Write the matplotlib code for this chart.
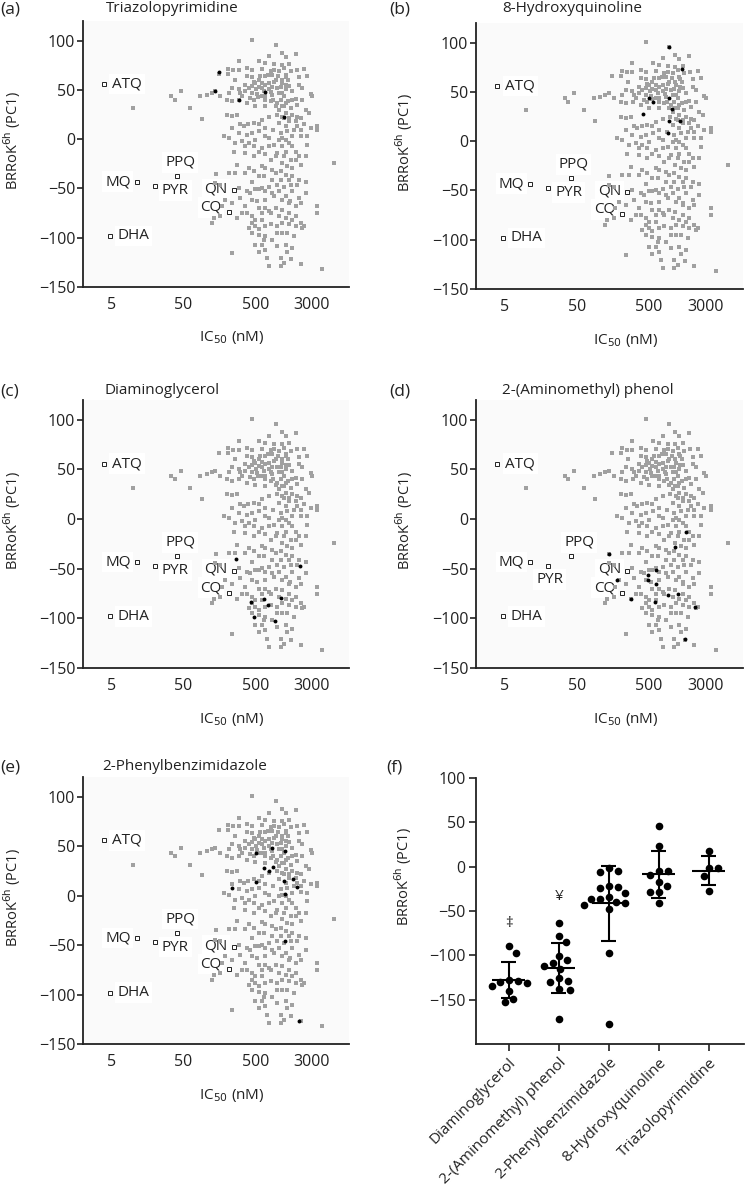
import numpy as np
import matplotlib.pyplot as plt
from matplotlib.ticker import NullLocator

plt.rcParams['font.family'] = ['Open Sans', 'DejaVu Sans']

# background compounds (grey squares), IC50 in nM and BRRoK6h PC1
cloud_ic50 = [
    449, 951, 1153, 1807, 784, 1312, 293, 569, 690, 902, 1153, 1460,
    208, 244, 293, 258, 383, 449, 620, 810, 1243, 1540, 1866, 2363, 154, 206, 587, 752, 1036, 1312, 2012, 1429,
    474, 620, 784, 951, 1178, 363, 449, 557, 690, 855, 1117, 1340, 2012, 2630,
    85, 106, 124, 138, 236, 212, 293, 404, 511, 654, 836, 1059, 1312, 1624, 2240, 2927, 3088,
    326, 426, 545, 690, 873, 1117, 1429, 1807, 383, 500, 690, 951, 1243, 1540, 2493,
    236, 299, 201, 163, 34, 38, 46, 62, 10,
    90, 201, 236, 277, 309, 344, 395, 474, 620, 768, 982, 1243, 1460, 1906, 2774,
    3626, 2927, 2123, 1713, 1383, 1117, 873, 690, 569, 449, 383, 293, 236, 500, 768, 1178, 1624, 2123, 2630, 3626,
    181, 212, 263, 326, 363, 474, 620, 902, 1178, 1460, 1807, 2630, 249, 363, 474, 690, 1003, 1243, 1540, 2012,
    1153, 1383, 1624, 2123, 6200, 277, 404, 620, 855, 1117,
    141, 212, 263, 474, 654, 951, 1312, 1624, 2012, 2493, 138, 163, 293, 383, 426, 500, 620, 768, 1003, 1243, 1540, 1906, 2493,
    449, 527, 690, 902, 1178, 1491, 2012, 3626, 191, 236, 171,
    131, 163, 277, 383, 449, 500, 620, 768, 951, 1153, 1460, 1807, 2123, 2363, 3626,
    124, 404, 500, 690, 810, 1178, 1460, 1807, 2240, 449, 557, 690, 1003, 1383, 1713, 855, 654,
    500, 620, 690, 1003, 1312, 1383, 1624, 557, 236, 728, 1117, 1573, 2123, 768, 1117, 1243, 4170,
    690, 557, 902, 1153, 1460, 620, 784, 1003, 1178, 855, 690, 1243, 1312, 1003, 810, 1153, 1059, 1312, 1624, 1178,
    1460, 1807, 2123, 449, 527, 620, 474, 363, 309, 383, 449, 500, 902, 1059, 855, 1624, 1906, 2240, 1340,
    557, 690, 855, 1059, 1312, 557, 690, 810, 1059, 1312, 1624, 620, 1003, 449, 557, 1178, 363, 309, 326, 1460,
    1807, 2123, 1624, 855, 1117, 1460, 449, 557, 363, 690,
    768, 951, 1312, 1624, 557, 404, 810, 1807, 2493, 1059, 1312, 690, 557, 1059, 1312, 1906, 2363,
]
cloud_pc1 = [
    101, 96, 87.5, 87, 84, 83.5, 79, 79, 77, 76, 75.5, 76.5,
    71.5, 70, 70, 60.5, 72, 70, 71, 69.5, 72, 69, 70.5, 71, 66.5, 66.5, 64, 65.5, 64, 65.5, 63, 60.5,
    58.5, 57.5, 57, 60.5, 57, 55.5, 54.5, 53.5, 55.5, 53, 53, 55, 55.5, 64,
    43.5, 45, 47, 48.5, 52, 47, 50.5, 52, 50.5, 48.5, 47.5, 47, 50.5, 48.5, 52, 46, 43.5,
    43.5, 42, 43, 40, 40, 40, 38.5, 41, 36.5, 34, 33.5, 34, 33.5, 31.5, 30,
    38.5, 40, 40, 43.5, 43.5, 40, 48.5, 31.5, 31.5,
    20.5, 25, 24, 25, 15, 13, 15, 16.5, 20, 23, 25, 21.5, 21.5, 23, 26.5,
    13, 11.5, 9.5, 9.5, 8, 6.5, 9.5, 11.5, 8, 6.5, 4.5, 6.5, 11.5, -0.5, 1, 1, 3, 3.5, 3, 9.5,
    3, 1, -4, -2, -7, -7, -9, -5.5, -7, -4, -12.5, -5.5, -12.5, -14, -17.5, -15.5, -14, -17.5, -21, -17.5,
    -24, -27.5, -29, -26, -24, -26, -29, -27, -31, -32.5,
    -35, -34, -34, -32.5, -37.5, -34, -36, -37.5, -41, -43, -44.5, -46, -49.5, -53, -54.5, -51, -49.5, -48, -46, -48, -46, -46, -54.5,
    -61.5, -63, -61.5, -58, -61.5, -63, -59.5, -68, -61.5, -65, -68,
    -80, -78, -80, -75, -78, -81.5, -75, -73, -70, -71.5, -75, -78, -85, -88.5, -75,
    -85, -90, -88.5, -88.5, -86.5, -85, -86.5, -88.5, -90, -95, -97, -98.5, -95, -95, -98.5, -102, -102,
    -107, -107, -112, -108.5, -107, -114, -110.5, -114, -115.5, -120.5, -120.5, -122, -127, -129, -129, -125.5, -131.5,
    64, 60.5, 58.5, 60.5, 54.5, 52, 50.5, 52, 47, 45, 43.5, 43.5, 36.5, 36.5, 38.5, 33.5, 30, 26.5, 25, 23,
    18, 18, 21.5, 47, 46, 43.5, 40, 48.5, 47, 64, 63, 57, 70.5, 69, 65.5, 40, 35, 40, 63.5,
    -51, -53, -54.5, -53, -58, -70, -70, -75, -78, -80, -81.5, -81.5, -88.5, -85, -91.5, -95, -68, -59.5, -75, -65,
    -68, -65, -53, -41, -41, -41, -43, -37.5, -34, -29,
    -7, -17.5, -12.5, -7, -12.5, -4, -21, -21, -17.5, -0.5, -0.5, 3, 15, 16.5, 13, 13, 15,
]

# reference antimalarials (open squares)
drug_names = ['ATQ', 'MQ', 'PYR', 'PPQ', 'QN', 'CQ', 'DHA']
drug_ic50 = [3.9, 11.2, 20, 41, 250, 212, 4.8]
drug_pc1 = [56, -43, -47, -37.5, -52, -74, -98]

# scaffold hits (black dots) per panel
tri_ic50 = [154, 138, 299, 690, 1243]
tri_pc1 = [68, 49, 40, 48, 23]
hq_ic50 = [934, 1426, 500, 568, 934, 1038, 413, 934, 1324, 906]
hq_pc1 = [96, 73, 44, 40, 44, 33, 28, 21, 21, 8.5]
dag_ic50 = [272, 2080, 440, 654, 752, 1117, 484, 931]
dag_pc1 = [-40.5, -47, -84, -80, -87, -79, -99, -103]
amp_ic50 = [1603, 1130, 140, 631, 484, 484, 177, 618, 277, 915, 1256, 599, 2132, 1570]
amp_pc1 = [-13, -28, -35.5, -51.5, -56, -61, -61.5, -65.5, -80.5, -76, -75, -84, -89, -121]
pbz_ic50 = [511, 855, 1270, 668, 768, 873, 1678, 1256, 516, 1866, 236, 1270, 1270, 2012]
pbz_pc1 = [43.5, 48.5, 45, 27.6, 25, 29, 17, 14.7, 13.7, 8.7, 8, 1.2, -46, -127]

# panel (f)
f_names = ['Diaminoglycerol', '2-(Aminomethyl) phenol', '2-Phenylbenzimidazole',
           '8-Hydroxyquinoline', 'Triazolopyrimidine']
f_dag = [-90, -97, -128, -130, -131, -129, -135, -140, -153, -149]
f_amp = [-63, -78, -85, -101, -105, -109, -112, -115, -126, -129, -130, -138, -139, -172]
f_pbz = [-5, -6, -2, -24, -22, -23, -36, -36, -34, -41, -48, -43, -97, -177, -30, -40]
f_hq = [46, 23, -5, -5, -17, -22, -9, -29, -29, -41]
f_tri = [18, -2, -1, -10, -27]
f_marks = ['‡', '¥']
f_mark_y = [-64, -34]

W, H = 748, 1194
fig = plt.figure(figsize=(W / 100, H / 100), dpi=100)
TXT = '#222222'
YLAB = r'BRRoK$^{\mathrm{6h}}$ (PC1)'


def px_axes(l, t, r, b):
    return fig.add_axes([l / W, 1 - b / H, (r - l) / W, (b - t) / H])


def ftext(x, y, s, **kw):
    fig.text(x / W, 1 - y / H, s, va='center', **kw)


lab_off = {'ATQ': (6, 0, 'left'), 'MQ': (-4.5, 0, 'right'), 'PYR': (5, -3.5, 'left'),
           'PPQ': (2, 10, 'center'), 'QN': (-4.5, 1, 'right'), 'CQ': (-5, 3.5, 'right'),
           'DHA': (5, 0, 'left')}


def scatter_panel(box, hx, hy, alt=False):
    ax = px_axes(*box)
    ax.set_facecolor('#fafafa')
    ax.plot(cloud_ic50, cloud_pc1, 's', ms=2.6, color='#a0a0a0', mew=0, zorder=2)
    ax.plot(hx, hy, 'o', ms=2.8, color='black', mew=0, zorder=3)
    for name, xv, yv in zip(drug_names, drug_ic50, drug_pc1):
        ax.plot(xv, yv, 's', ms=3.3, mfc='white', mec=TXT, mew=0.7, zorder=4)
        dx, dy, ha = lab_off[name]
        if alt and name == 'PYR':
            dx, dy, ha = (1, -10, 'center')
        if alt and name == 'PPQ':
            dx, dy, ha = (6, 10, 'center')
        ax.annotate(name, (xv, yv), xytext=(dx, dy), textcoords='offset points',
                    ha=ha, va='center', fontsize=11, color=TXT, zorder=1.5,
                    bbox=dict(fc='white', ec='none', pad=2))
    ax.set_xscale('log')
    ax.set_xlim(2, 10000)
    ax.set_ylim(-150, 120)
    ax.set_xticks([5, 50, 500, 3000])
    ax.set_xticklabels(['5', '50', '500', '3000'])
    ax.xaxis.set_minor_locator(NullLocator())
    ax.set_yticks([-150, -100, -50, 0, 50, 100])
    ax.set_yticklabels(['\u2212150', '\u2212100', '\u221250', '0', '50', '100'])
    ax.tick_params(axis='x', length=0, pad=7, labelsize=11.5, colors=TXT)
    ax.tick_params(axis='y', length=4, width=1.2, pad=1.5, labelsize=11.5, colors=TXT)
    for s in ['top', 'right']:
        ax.spines[s].set_visible(False)
    for s in ['left', 'bottom']:
        ax.spines[s].set_linewidth(1.3)
        ax.spines[s].set_color(TXT)
    ax.text(0.56, -51 / 266, r'IC$_{50}$ (nM)', transform=ax.transAxes, ha='center',
            va='center', fontsize=11, color=TXT)
    ax.text(-0.268, 0.55, YLAB, transform=ax.transAxes, rotation=90,
            ha='center', va='center', fontsize=10.5, color=TXT)
    return ax


scatter_panel((83, 21, 349, 287), tri_ic50, tri_pc1)
scatter_panel((476, 23, 743, 289), hq_ic50, hq_pc1)
scatter_panel((83, 400, 349, 668), dag_ic50, dag_pc1)
scatter_panel((476, 400, 743, 668), amp_ic50, amp_pc1, alt=True)
scatter_panel((83, 777, 349, 1044), pbz_ic50, pbz_pc1)

panel_txt = [('(a)', 0, 10, 'Triazolopyrimidine', 106),
             ('(b)', 389, 10, '8-Hydroxyquinoline', 502),
             ('(c)', 0, 391, 'Diaminoglycerol', 105),
             ('(d)', 389, 391, '2-(Aminomethyl) phenol', 502),
             ('(e)', 0, 768, '2-Phenylbenzimidazole', 102),
             ('(f)', 386, 768, None, 0)]
for lab, lx, ly, title, tx in panel_txt:
    ftext(lx, ly, lab, fontsize=12.5, color=TXT)
    if title:
        ftext(tx, ly - 1, title, fontsize=11, color=TXT)

# panel (f)
axf = px_axes(476, 778, 744, 1044)
axf.set_xlim(-0.65, 4.7)
axf.set_ylim(-200, 100)


def swarm_offsets(ax, x0, ys, diam):
    xy = ax.transData.transform(np.column_stack([np.full(len(ys), x0), ys]))
    ppx = ax.transData.transform([(x0 + 1, 0)])[0][0] - ax.transData.transform([(x0, 0)])[0][0]
    cands = [0.0]
    for k in range(1, 120):
        cands += [k * 0.5, -k * 0.5]
    placed = []
    offs = np.zeros(len(ys))
    for i in np.argsort(ys)[::-1]:
        py = xy[i, 1]
        for c in cands:
            if all((c - qx) ** 2 + (py - qy) ** 2 >= diam ** 2 for qx, qy in placed):
                break
        placed.append((c, py))
        offs[i] = c / ppx
    return offs


groups = [f_dag, f_amp, f_pbz, f_hq, f_tri]
for i, vals in enumerate(groups):
    vals = np.array(vals, dtype=float)
    offs = swarm_offsets(axf, i, vals, 9)
    axf.plot(i + offs, vals, 'o', ms=5.5, color='black', mew=0, zorder=3)
    m, sd = vals.mean(), vals.std(ddof=1)
    axf.hlines(m, i - 0.33, i + 0.33, color='black', lw=1.5, zorder=4)
    axf.vlines(i, m - sd, m + sd, color='black', lw=1.5, zorder=4)
    axf.hlines([m - sd, m + sd], i - 0.15, i + 0.15, color='black', lw=1.5, zorder=4)

for i, (mk, yv) in enumerate(zip(f_marks, f_mark_y)):
    axf.text(i, yv, mk, ha='center', va='center', fontsize=11, color=TXT)

axf.set_xticks(range(len(f_names)))
axf.set_xticklabels(f_names, rotation=45, ha='right', rotation_mode='anchor')
axf.set_yticks([-150, -100, -50, 0, 50, 100])
axf.set_yticklabels(['\u2212150', '\u2212100', '\u221250', '0', '50', '100'])
axf.tick_params(axis='both', length=5, width=1.2, labelsize=11, colors=TXT)
axf.tick_params(axis='y', pad=2.5, labelsize=11.5)
axf.tick_params(axis='x', pad=3)
for s in ['top', 'right']:
    axf.spines[s].set_visible(False)
for s in ['left', 'bottom']:
    axf.spines[s].set_linewidth(1.3)
    axf.spines[s].set_color(TXT)
axf.text(-0.27, 0.63, YLAB, transform=axf.transAxes, rotation=90,
         ha='center', va='center', fontsize=10.5, color=TXT)

fig.savefig('out.png', dpi=100, facecolor='white')
